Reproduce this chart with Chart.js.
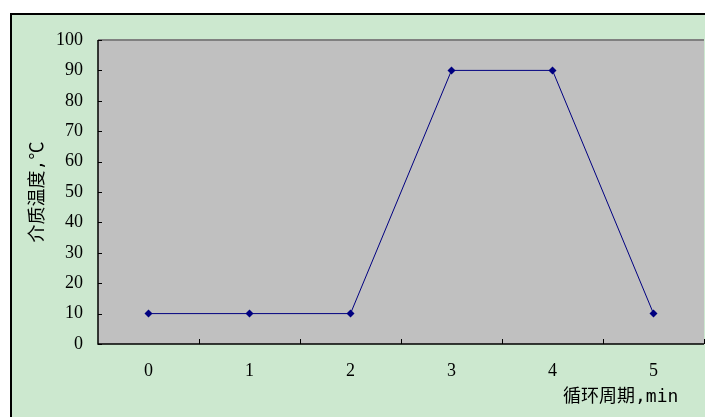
<!DOCTYPE html>
<html>
<head>
<meta charset="utf-8">
<script src="https://cdn.jsdelivr.net/npm/chart.js@4/dist/chart.umd.min.js"></script>
<style>
  html, body { margin: 0; padding: 0; width: 705px; height: 417px; overflow: hidden; background: #ffffff; }
  #box { position: absolute; left: 10px; top: 13px; width: 800px; height: 500px;
         background: #cce8cf; border-left: 2px solid #000; border-top: 2px solid #000; }
  #c { position: absolute; left: 0; top: 0; }
</style>
</head>
<body>
<div id="box"></div>
<canvas id="c" width="705" height="417"></canvas>
<script>
const categories = ['0', '1', '2', '3', '4', '5'];
const temperatures = [10, 10, 10, 90, 90, 10];
const xTitle = '循环周期,min';
const yTitle = '介质温度,℃';

const serif = '"Liberation Serif", "Noto Sans CJK SC", serif';
const cjk = '"DejaVu Sans Mono", "Noto Sans CJK SC", monospace';

const plotDeco = {
  id: 'plotDeco',
  beforeDraw(chart) {
    const { ctx, chartArea: a } = chart;
    ctx.save();
    ctx.fillStyle = '#c0c0c0';
    ctx.fillRect(a.left, a.top, a.right - a.left, a.bottom - a.top);
    ctx.restore();
  },
  beforeDatasetsDraw(chart) {
    const { ctx, chartArea: a, scales } = chart;
    ctx.save();
    ctx.strokeStyle = '#808080';
    ctx.lineWidth = 2;
    ctx.beginPath();
    ctx.moveTo(a.left, a.top);
    ctx.lineTo(a.right, a.top);
    ctx.stroke();
    ctx.strokeStyle = '#000';
    ctx.lineWidth = 1.5;
    ctx.beginPath();
    ctx.moveTo(a.left, a.top);
    ctx.lineTo(a.left, a.bottom);
    ctx.lineTo(a.right, a.bottom);
    ctx.stroke();
    ctx.lineWidth = 1;
    const y = scales.y;
    y.ticks.forEach(t => {
      const py = Math.round(y.getPixelForValue(t.value)) + 0.5;
      ctx.beginPath();
      ctx.moveTo(a.left, py);
      ctx.lineTo(a.left + 4, py);
      ctx.stroke();
    });
    const x = scales.x;
    const n = categories.length;
    for (let i = 1; i <= n; i++) {
      const px = Math.round(x.left + (x.right - x.left) * i / n) + 0.5;
      ctx.beginPath();
      ctx.moveTo(px, a.bottom);
      ctx.lineTo(px, a.bottom - 5);
      ctx.stroke();
    }
    ctx.restore();
  },
  afterDraw(chart) {
    const { ctx } = chart;
    ctx.save();
    ctx.fillStyle = '#000';
    ctx.font = '18px ' + cjk;
    ctx.textAlign = 'left';
    ctx.textBaseline = 'middle';
    ctx.fillText(xTitle, 563, 397);
    ctx.restore();
  }
};

new Chart(document.getElementById('c'), {
  type: 'line',
  data: {
    labels: categories,
    datasets: [{
      data: temperatures,
      borderColor: '#000080',
      backgroundColor: '#000080',
      borderWidth: 1,
      pointStyle: 'rectRot',
      pointRadius: 4,
      pointHoverRadius: 4,
      pointBorderWidth: 0,
      tension: 0,
      fill: false,
      clip: false
    }]
  },
  options: {
    responsive: false,
    devicePixelRatio: 1,
    animation: false,
    events: [],
    layout: { autoPadding: false, padding: { left: 0, right: 1, top: 40, bottom: 0 } },
    plugins: { legend: { display: false }, tooltip: { enabled: false } },
    scales: {
      x: {
        type: 'category',
        offset: true,
        border: { display: false },
        grid: { display: false, drawTicks: false },
        ticks: { color: '#000', padding: 16, font: { family: serif, size: 18 } },
        afterFit(s) { s.height = 73; }
      },
      y: {
        min: 0, max: 100,
        border: { display: false },
        grid: { display: false, drawTicks: false },
        ticks: { stepSize: 10, color: '#000', padding: 15, font: { family: serif, size: 18 } },
        title: { display: true, text: yTitle, color: '#000', padding: { top: 28, bottom: 0 },
                 font: { family: cjk, size: 18 } },
        afterFit(s) { s.width = 98; }
      }
    }
  },
  plugins: [plotDeco]
});
</script>
</body>
</html>
